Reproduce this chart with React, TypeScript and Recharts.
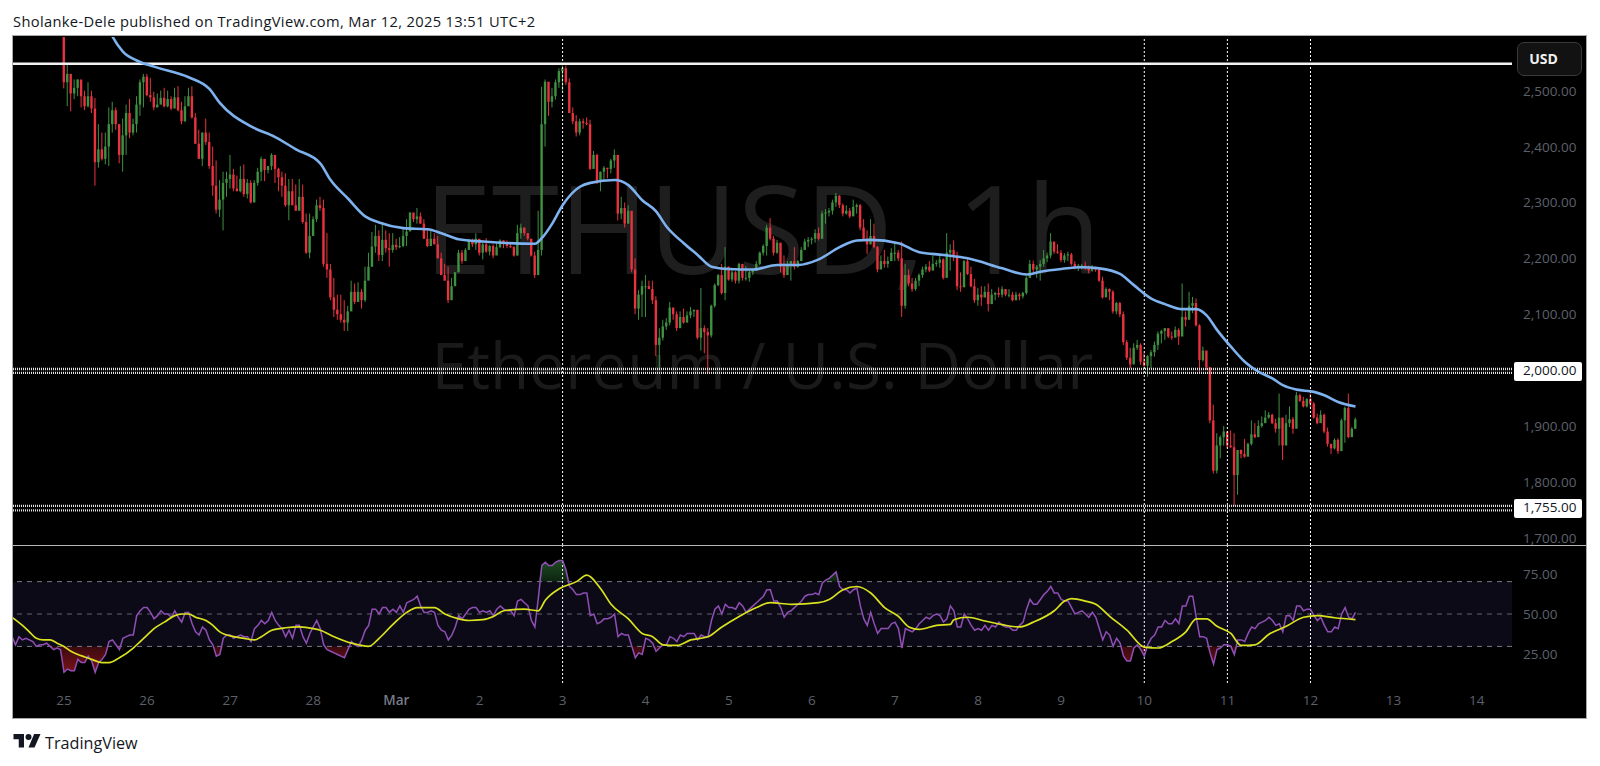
import React from "react";
import { ComposedChart, Bar, Line, Area, XAxis, YAxis, ReferenceLine, ReferenceArea } from "recharts";

// hours are counted from 25 Feb 00:00
const firstOpen = 2650;
const closes = [
  2515,2530,2495,2505,2520,2490,2472,2490,2468,2372,2395,2378,2400,2440,2465,2440,2385,2420,2460,2425,2440,2475,2515,2525,
  2492,2488,2470,2475,2487,2472,2485,2468,2488,2465,2445,2472,2490,2452,2405,2378,2425,2408,2365,2330,2287,2305,2335,2342,
  2350,2325,2320,2342,2315,2335,2300,2335,2355,2378,2358,2365,2385,2360,2345,2330,2295,2320,2295,2285,2310,2265,2210,2240,
  2270,2295,2290,2190,2180,2130,2108,2100,2090,2085,2105,2140,2122,2140,2125,2160,2185,2221,2240,2206,2233,2218,2215,2224,
  2220,2222,2240,2248,2282,2270,2275,2262,2235,2222,2235,2225,2200,2170,2160,2125,2150,2175,2210,2195,2215,2232,2225,2235,
  2210,2225,2212,2222,2205,2220,2232,2228,2222,2220,2205,2245,2255,2245,2235,2205,2170,2215,2440,2516,2480,2490,2515,2535,
  2540,2515,2460,2445,2425,2445,2442,2440,2360,2385,2337,2355,2362,2360,2375,2385,2280,2290,2262,2285,2180,2110,2135,2150,
  2150,2145,2125,2045,2058,2078,2085,2112,2100,2075,2095,2085,2098,2105,2108,2058,2075,2068,2062,2115,2152,2170,2138,2185,
  2162,2175,2160,2190,2165,2165,2175,2178,2190,2210,2222,2255,2235,2210,2228,2185,2170,2190,2195,2185,2195,2215,2230,2233,
  2235,2245,2235,2280,2282,2285,2300,2312,2295,2280,2285,2275,2292,2295,2255,2235,2225,2240,2220,2180,2195,2190,2195,2210,
  2210,2200,2115,2170,2155,2145,2160,2170,2180,2185,2178,2190,2192,2198,2165,2210,2215,2205,2150,2148,2195,2172,2150,2125,
  2135,2130,2140,2118,2135,2138,2135,2145,2135,2135,2125,2135,2132,2138,2165,2190,2180,2185,2190,2200,2205,2230,2212,2210,
  2197,2205,2207,2190,2183,2187,2187,2183,2178,2185,2180,2160,2130,2145,2140,2105,2120,2100,2050,2022,2010,2040,2045,2015,
  2008,2025,2032,2045,2065,2070,2075,2060,2058,2072,2060,2095,2090,2115,2120,2080,2018,2035,2005,1910,1820,1865,1880,1890,
  1865,1862,1812,1857,1850,1845,1868,1885,1880,1900,1905,1915,1920,1905,1895,1915,1865,1905,1912,1895,1955,1945,1935,1948,
  1940,1915,1905,1920,1890,1868,1860,1875,1855,1910,1932,1880,1895,1912,
];
const highs = [
  2680,2546,2530,2520,2520,2515,2500,2515,2500,2487,2440,2425,2425,2470,2480,2470,2440,2450,2475,2485,2450,2490,2520,2530,
  2530,2523,2498,2495,2500,2505,2500,2490,2505,2508,2480,2490,2505,2508,2460,2430,2425,2450,2425,2400,2375,2340,2355,2355,
  2385,2360,2348,2365,2368,2342,2340,2340,2362,2382,2358,2365,2388,2382,2362,2355,2352,2342,2342,2332,2342,2332,2280,2280,
  2275,2305,2310,2305,2245,2190,2165,2135,2135,2125,2115,2160,2155,2157,2145,2185,2210,2247,2260,2250,2265,2250,2245,2245,
  2235,2238,2255,2270,2282,2272,2290,2282,2270,2250,2250,2245,2240,2210,2190,2185,2165,2175,2215,2215,2218,2235,2235,2245,
  2234,2228,2236,2224,2225,2226,2234,2232,2232,2228,2222,2260,2262,2255,2245,2232,2212,2285,2507,2520,2512,2505,2520,2540,
  2545,2545,2522,2470,2456,2450,2450,2452,2448,2392,2387,2355,2365,2362,2378,2395,2385,2310,2300,2295,2280,2200,2143,2160,
  2170,2160,2160,2132,2075,2090,2093,2122,2108,2105,2105,2110,2105,2113,2108,2102,2147,2080,2075,2117,2155,2172,2190,2220,
  2185,2180,2177,2192,2190,2186,2178,2182,2195,2212,2225,2260,2272,2240,2233,2225,2205,2195,2195,2220,2197,2220,2235,2238,
  2238,2252,2255,2285,2288,2290,2305,2317,2313,2298,2295,2290,2305,2298,2297,2270,2250,2270,2262,2222,2205,2215,2203,2218,
  2230,2215,2230,2190,2180,2165,2165,2173,2185,2190,2195,2205,2197,2205,2200,2245,2225,2232,2212,2175,2197,2200,2185,2163,
  2147,2150,2150,2155,2145,2140,2148,2150,2145,2145,2140,2140,2138,2140,2168,2197,2196,2188,2197,2215,2210,2245,2225,2225,
  2215,2209,2212,2210,2195,2190,2190,2194,2187,2188,2185,2182,2167,2148,2146,2143,2122,2122,2105,2054,2040,2048,2054,2048,
  2030,2027,2036,2051,2069,2072,2075,2073,2069,2078,2075,2155,2105,2140,2131,2128,2082,2042,2022,2005,1938,1887,1883,1900,
  1887,1892,1887,1857,1858,1877,1870,1910,1905,1910,1917,1928,1925,1922,1913,1958,1907,1920,1935,1916,1961,1958,1952,1950,
  1958,1943,1922,1928,1922,1897,1868,1878,1878,1913,1935,1958,1898,1915,
];
const lows = [
  2504,2472,2463,2485,2490,2470,2465,2470,2460,2330,2362,2375,2368,2365,2425,2430,2370,2355,2385,2415,2420,2425,2455,2470,
  2490,2480,2465,2470,2480,2470,2470,2465,2470,2463,2440,2445,2488,2450,2405,2378,2365,2403,2360,2312,2280,2274,2250,2310,
  2325,2320,2320,2318,2310,2307,2298,2300,2330,2338,2338,2352,2358,2335,2320,2310,2292,2268,2295,2285,2305,2262,2208,2200,
  2260,2265,2285,2185,2165,2125,2095,2090,2085,2070,2070,2120,2118,2122,2110,2122,2165,2185,2210,2195,2195,2210,2185,2210,
  2215,2218,2220,2222,2250,2265,2262,2262,2235,2220,2232,2225,2200,2170,2160,2120,2140,2155,2175,2190,2195,2215,2220,2215,
  2205,2198,2210,2205,2200,2215,2218,2218,2218,2218,2203,2205,2235,2240,2232,2203,2165,2198,2205,2400,2455,2470,2484,2505,
  2500,2510,2460,2440,2418,2420,2432,2438,2358,2362,2333,2320,2340,2343,2352,2362,2268,2270,2255,2262,2175,2100,2090,2095,
  2095,2145,2118,2025,2000,2053,2072,2080,2090,2070,2083,2083,2085,2093,2095,2055,2035,2030,1994,2058,2112,2150,2135,2125,
  2160,2158,2155,2155,2160,2160,2158,2170,2178,2188,2205,2205,2232,2205,2208,2175,2165,2170,2160,2180,2183,2195,2215,2220,
  2225,2228,2232,2235,2262,2275,2278,2292,2290,2275,2278,2272,2278,2280,2250,2232,2208,2225,2218,2175,2183,2183,2183,2195,
  2195,2195,2095,2110,2150,2140,2142,2150,2165,2175,2175,2183,2185,2183,2162,2173,2178,2195,2143,2140,2155,2170,2148,2120,
  2115,2115,2130,2105,2130,2125,2130,2130,2132,2130,2123,2125,2125,2128,2135,2165,2175,2165,2160,2185,2193,2200,2208,2208,
  2193,2192,2195,2187,2180,2177,2180,2179,2173,2176,2176,2158,2128,2135,2125,2101,2100,2095,2045,2018,2003,2018,2036,2009,
  2006,1988,2003,2024,2036,2048,2054,2057,2054,2063,2045,2063,2078,2096,2102,2078,1997,2015,2000,1905,1815,1815,1842,1865,
  1860,1860,1757,1777,1842,1843,1848,1865,1878,1880,1897,1910,1913,1903,1888,1865,1839,1866,1898,1886,1904,1943,1933,1933,
  1933,1913,1903,1908,1887,1863,1850,1858,1850,1870,1870,1878,1882,1895,
];

// blue moving average on the price pane
const emaHours = [12,14,17,21,26,36,42,45,54,61,67,74,77,82,87,91,98,105,109,114,121,136,138,141,144,149,152,159,163,167,171,174,179,183,187,192,199,206,212,218,224,229,233,241,247,254,261,271,278,282,288,294,299,305,309,314,318,323,327,330,333,337,341,345,349,352,356,361,364,368,373];
const emaValues = [2625,2597,2570,2554,2543,2524,2503,2478,2436,2417,2395,2370,2340,2307,2275,2264,2254,2252,2245,2234,2230,2226,2236,2262,2295,2328,2335,2340,2331,2304,2284,2257,2227,2206,2185,2181,2180,2188,2188,2198,2220,2232,2233,2227,2211,2206,2200,2182,2171,2176,2181,2184,2182,2172,2152,2128,2118,2109,2109,2098,2072,2042,2015,1997,1985,1973,1965,1961,1955,1943,1935];

// RSI, one value per hour from hour -15
const rsiStart = -15;
const rsiValues = [
  36,31,36,34,35,34,33,30,31,31,32,30,28,29,28,
  14,16,15,15,22,20,20,24,21,14,20,22,25,33,34,31,28,35,36,37,37,49,52,54,
  54,51,47,49,52,50,50,48,52,48,45,51,51,44,39,37,42,40,34,31,24,25,35,37,
  37,35,36,37,36,36,33,41,43,46,44,46,51,46,43,41,36,40,35,43,43,36,32,38,
  42,46,41,31,28,27,26,25,24,23,28,33,31,30,34,40,43,53,53,50,54,54,51,53,
  51,55,51,57,58,59,61,55,51,51,52,51,43,40,39,34,37,42,49,47,50,53,54,54,
  51,52,51,52,49,53,55,53,52,52,49,58,59,57,55,46,42,60,80,82,80,80,82,83,
  83,77,67,65,62,62,63,63,49,50,44,45,47,47,48,50,36,38,37,37,30,23,26,25,
  35,34,32,27,29,31,31,36,35,33,37,36,38,38,38,34,37,36,36,46,53,55,50,56,
  54,54,53,57,55,51,53,55,57,59,61,65,65,58,58,54,48,51,52,54,56,58,61,62,
  62,63,62,69,71,72,74,76,67,65,65,63,65,66,55,47,43,51,44,38,41,41,41,44,
  45,41,29,41,40,39,41,44,46,48,47,49,50,49,45,47,55,52,42,42,50,47,43,40,
  41,40,43,40,43,42,45,43,42,42,40,40,43,45,53,59,56,56,59,62,64,67,63,63,
  59,58,58,54,50,51,52,50,48,51,48,41,34,39,37,30,35,32,24,21,21,29,31,28,
  24,31,35,37,42,42,46,44,44,47,44,55,55,61,61,48,36,36,35,26,19,28,29,31,
  31,30,25,34,34,33,38,42,41,44,45,46,48,46,43,44,39,49,49,46,55,55,52,53,
  53,49,46,48,43,39,39,42,41,50,54,48,47,51,
];

// yellow RSI average
const maHours = [-15,-12,-10,-8,-6,-4,-2,0,2,4,6,8,11,13,16,20,22,24,26,29,32,34,36,38,41,43,45,49,52,55,57,60,64,68,72,74,78,83,85,88,91,95,99,102,107,110,114,117,121,124,127,133,137,139,143,148,151,155,158,163,167,170,173,177,181,186,190,195,200,204,210,218,221,225,229,233,237,241,244,247,252,256,257,261,266,271,276,280,286,289,291,295,298,302,307,312,316,320,324,327,330,333,337,340,344,348,353,358,362,367,373];
const maValues = [48,43,39,35,34,34,32,30,27,25,23.5,22,20,20,23,29,33,37,41,45,49,50,50,48,46,43,39,36,35,34,36,40,41.5,42,41,40,36,32,31,30,35,43.6,51,54,54,50,47,46,46.5,48.5,52,53,52,58.5,65.6,70,74,65.6,56,47,38,36,31,30.6,34,36,42,48.5,54,57,56,57,59,65,67,63,54,48.5,42,40.5,43,43.6,46.5,48,45.7,43.4,42,45,52,58,59.5,58,56,48.6,40,29.6,29,33,39,47,47,42.4,38,30.6,31,37.5,42.4,48,49,47.7,46.5];

const priceTicks = [1700, 1755, 1800, 1900, 2000, 2100, 2200, 2300, 2400, 2500];
const flaggedPrices = [1755, 2000];
const rsiTicks = [25, 50, 75];
const dayTicks = [0,24,48,72,96,120,144,168,192,216,240,264,288,312,336,360,384,408];
const dayLabels = ["25","26","27","28","Mar","2","3","4","5","6","7","8","9","10","11","12","13","14"];
const markedHours = [144, 312, 336, 360];
const resistanceLine = 2548;
const supportLines = [2002, 1995, 1757, 1749];

const hours = Array.from({ length: rsiValues.length }, (_, i) => rsiStart + i);
const table = hours.map((h, i) => {
  const row: any = { h, rsi: rsiValues[i] };
  if (h >= 0 && h < closes.length) {
    row.open = h === 0 ? firstOpen : closes[h - 1];
    row.close = closes[h];
    row.high = highs[h];
    row.low = lows[h];
    row.range = [lows[h], highs[h]];
  }
  const e = emaHours.indexOf(h);
  if (e >= 0) row.ema = emaValues[e];
  const m = maHours.indexOf(h);
  if (m >= 0) row.ma = maValues[m];
  row.below = [Math.min(rsiValues[i], 30), 30];
  row.above = [70, Math.max(rsiValues[i], 70)];
  return row;
});

const RED = "#e8323f";
const GREEN = "#3f9142";
const GREY = "#5d606b";
const FONT = "'Open Sans', 'Noto Sans', sans-serif";

const Candle = (props: any) => {
  const { x, y, width, height, payload } = props;
  if (!payload || payload.close === undefined) return null;
  const perUnit = height / (payload.high - payload.low);
  const top = y + (payload.high - Math.max(payload.open, payload.close)) * perUnit;
  const bottom = y + (payload.high - Math.min(payload.open, payload.close)) * perUnit;
  const color = payload.close >= payload.open ? GREEN : RED;
  const cx = x + width / 2;
  return (
    <g>
      <line x1={cx} x2={cx} y1={y} y2={y + height} stroke={color} strokeWidth={1} />
      <rect x={cx - 1.2} width={2.4} y={top} height={Math.max(bottom - top, 1)} fill={color} />
    </g>
  );
};

const PriceTick = (props: any) => {
  const { x, y, payload } = props;
  const flagged = flaggedPrices.includes(payload.value);
  const label = payload.value.toLocaleString("en-US", { minimumFractionDigits: 2 });
  return (
    <g>
      {flagged && <rect x={x} y={y - 8} width={68} height={19} rx={2} fill="#fff" />}
      <text x={x + 9} y={y + 5} fontSize={13.5} fontFamily={FONT} fill={flagged ? "#131722" : GREY}>{label}</text>
    </g>
  );
};

const RsiTick = (props: any) => {
  const { x, y, payload } = props;
  return <text x={x + 9} y={y + 5} fontSize={13.5} fontFamily={FONT} fill={GREY}>{payload.value.toFixed(2)}</text>;
};

const DayTick = (props: any) => {
  const { x, y, payload } = props;
  const label = dayLabels[dayTicks.indexOf(payload.value)];
  return (
    <text x={x} y={y + 20} textAnchor="middle" fontSize={13.5} fontFamily={FONT}
      fontWeight={label === "Mar" ? 600 : 400} fill={label === "Mar" ? "#787b86" : GREY}>{label}</text>
  );
};

const xDomain: [number, number] = [-14.73, 418.2];

export default function App() {
  return (
    <div style={{ position: "absolute", left: 0, top: 0, width: 1600, height: 766, background: "#fff", overflow: "hidden" }}>
      <div style={{ position: "absolute", left: 13, top: 11, fontFamily: "'Open Sans', sans-serif", fontSize: 14.7, letterSpacing: 0.34, color: "#131722", whiteSpace: "nowrap" }}>
        Sholanke-Dele published on TradingView.com, Mar 12, 2025 13:51 UTC+2
      </div>
      <div style={{ position: "absolute", left: 13, top: 36, width: 1573, height: 682, background: "#000", outline: "1px solid #a8a8a8" }} />
      <div style={{ position: "absolute", left: 13, width: 1499, top: 152, textAlign: "center", fontFamily: "'Open Sans', sans-serif", fontSize: 122, lineHeight: "150px", color: "#1e1e1e", whiteSpace: "nowrap" }}>
        ETHUSD, 1h
      </div>
      <div style={{ position: "absolute", left: 13, width: 1499, top: 325, textAlign: "center", fontFamily: "'Open Sans', sans-serif", fontSize: 64, lineHeight: "80px", color: "#1a1a1a", whiteSpace: "nowrap" }}>
        Ethereum / U.S. Dollar
      </div>

      <div style={{ position: "absolute", left: 13, top: 37 }}>
        <ComposedChart width={1573} height={516} data={table} margin={{ top: 0, right: 0, bottom: 8, left: 0 }}>
          <XAxis dataKey="h" type="number" scale="linear" domain={xDomain} hide allowDataOverflow />
          <YAxis orientation="right" width={74} type="number" domain={[1687, 2596]} allowDataOverflow ticks={priceTicks} interval={0} tick={<PriceTick />} axisLine={false} tickLine={false} tickSize={0} />
          {markedHours.map((h) => (
            <ReferenceLine key={h} x={h} stroke="#fff" strokeWidth={1} strokeDasharray="2 2" />
          ))}
          <ReferenceLine y={resistanceLine} stroke="#f2f2f2" strokeWidth={2.5} />
          {supportLines.map((p) => (
            <ReferenceLine key={p} y={p} stroke="#e0e0e0" strokeWidth={2.4} strokeDasharray="1 1" />
          ))}
          <Bar dataKey="range" barSize={3} shape={<Candle />} isAnimationActive={false} />
          <Line dataKey="ema" type="monotone" stroke="#7eb2ef" strokeWidth={2.6} dot={false} connectNulls isAnimationActive={false} />
        </ComposedChart>
      </div>

      <div style={{ position: "absolute", left: 13, top: 544.5, width: 1573, height: 1.5, background: "#b8b8b8" }} />

      <div style={{ position: "absolute", left: 13, top: 546 }}>
        <ComposedChart width={1573} height={172} data={table} margin={{ top: 0, right: 0, bottom: 0, left: 0 }}>
          <defs>
            <linearGradient id="osFill" x1="0" y1="0" x2="0" y2="1">
              <stop offset="0%" stopColor="#3a0a0e" />
              <stop offset="100%" stopColor="#7a1218" />
            </linearGradient>
            <linearGradient id="obFill" x1="0" y1="0" x2="0" y2="1">
              <stop offset="0%" stopColor="#1d4a22" />
              <stop offset="100%" stopColor="#0d2410" />
            </linearGradient>
          </defs>
          <XAxis dataKey="h" type="number" scale="linear" domain={xDomain} height={35} ticks={dayTicks} interval={0} tick={<DayTick />} axisLine={false} tickLine={false} tickSize={0} allowDataOverflow />
          <YAxis orientation="right" width={74} type="number" domain={[7.4, 92]} ticks={rsiTicks} interval={0} tick={<RsiTick />} axisLine={false} tickLine={false} tickSize={0} allowDataOverflow />
          <ReferenceArea y1={30} y2={70} fill="#0d0a17" fillOpacity={1} stroke="none" />
          <ReferenceLine y={70} stroke="#787b86" strokeDasharray="5 5" />
          <ReferenceLine y={50} stroke="#5f626c" strokeDasharray="5 5" />
          <ReferenceLine y={30} stroke="#787b86" strokeDasharray="5 5" />
          {markedHours.map((h) => (
            <ReferenceLine key={h} x={h} stroke="#fff" strokeWidth={1} strokeDasharray="2 2" />
          ))}
          <Area dataKey="below" stroke="none" fill="url(#osFill)" fillOpacity={1} dot={false} activeDot={false} isAnimationActive={false} />
          <Area dataKey="above" stroke="none" fill="url(#obFill)" fillOpacity={1} dot={false} activeDot={false} isAnimationActive={false} />
          <Line dataKey="rsi" type="linear" stroke="#8f4fb5" strokeWidth={1.5} dot={false} isAnimationActive={false} />
          <Line dataKey="ma" type="monotone" stroke="#d9e21f" strokeWidth={1.7} dot={false} connectNulls isAnimationActive={false} />
        </ComposedChart>
      </div>

      <div style={{ position: "absolute", left: 1517, top: 42, width: 65, height: 34, boxSizing: "border-box", paddingRight: 12, background: "#121212", border: "1px solid #3a3a3a", borderRadius: 7, color: "#f0f0f0", fontFamily: "'Open Sans', sans-serif", fontWeight: 700, fontSize: 14, lineHeight: "32px", textAlign: "center" }}>
        USD
      </div>

      <svg style={{ position: "absolute", left: 13, top: 734 }} width={28} height={15} viewBox="0 0 36 20">
        <path d="M14 18H7V7H0V0h14v18z" fill="#131722" />
        <circle cx="20" cy="4" r="4" fill="#131722" />
        <path d="M28 18h-8l7.5-18H36l-8 18z" fill="#131722" />
      </svg>
      <div style={{ position: "absolute", left: 45, top: 732, fontFamily: "'Open Sans', sans-serif", fontSize: 16.2, color: "#131722", whiteSpace: "nowrap" }}>
        TradingView
      </div>
    </div>
  );
}
